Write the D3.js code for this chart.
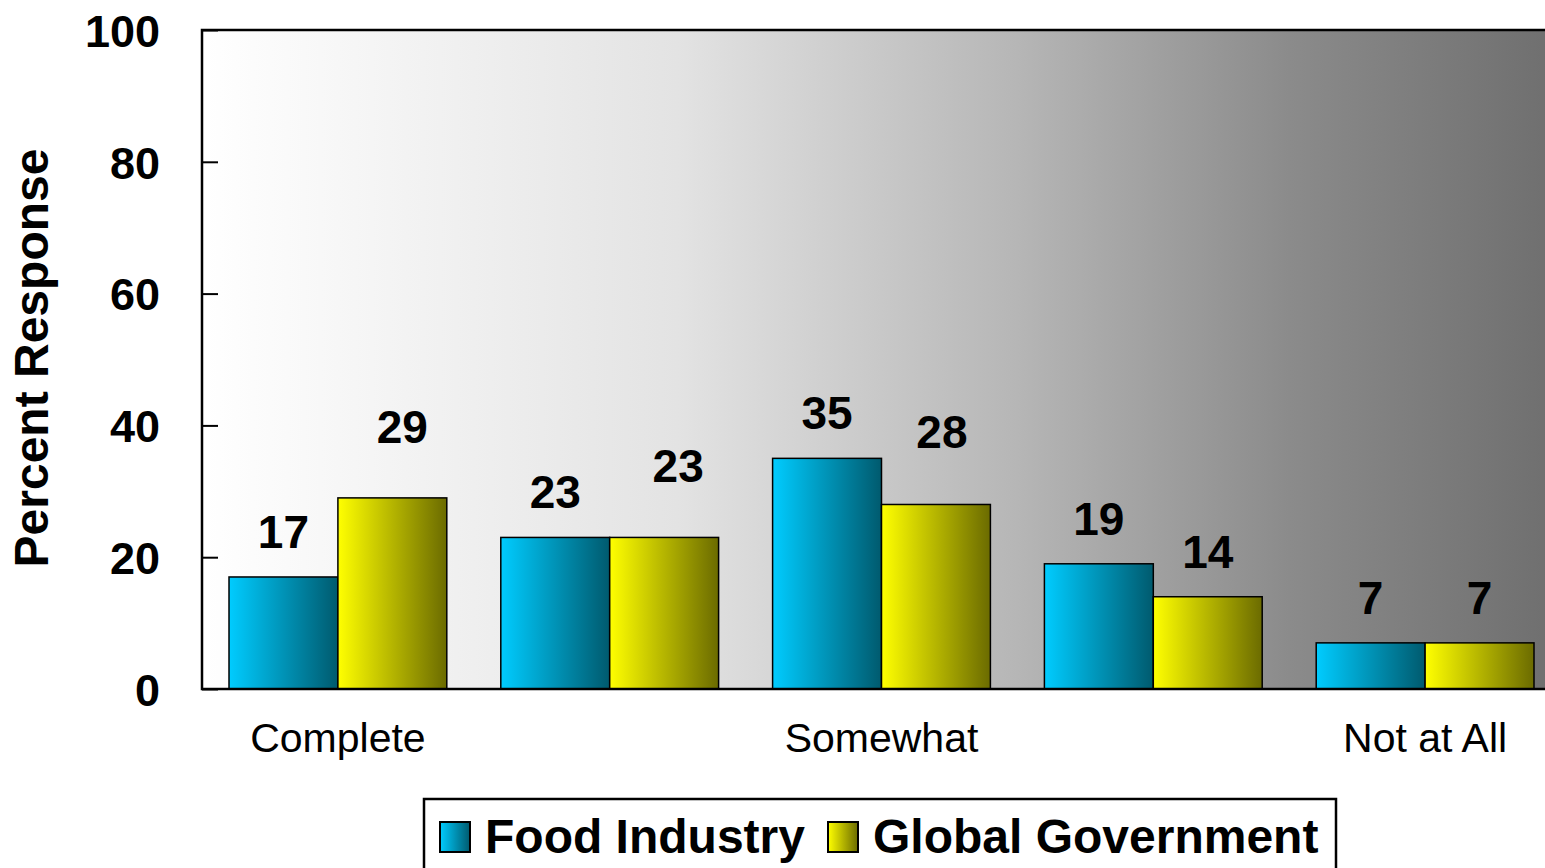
<!DOCTYPE html>
<html>
<head>
<meta charset="utf-8">
<script src="https://cdn.jsdelivr.net/npm/d3@7"></script>
<style>
  body { margin: 0; background: #fff; overflow: hidden; }
  text { font-family: "Liberation Sans", Arial, sans-serif; }
</style>
</head>
<body>
<div id="chart"></div>
<script>
// data
const categories = ["cat1", "cat2", "cat3", "cat4", "cat5"]
const tickLabels = ["Complete", "", "Somewhat", "", "Not at All"]
const seriesNames = ["Food Industry", "Global Government"]
const foodIndustry = [17, 23, 35, 19, 7]
const globalGovernment = [29, 23, 28, 14, 7]
const yTicks = [0, 20, 40, 60, 80, 100]

// value labels in the original were nudged by hand (px)
const labelNudge = [
    [[0, 0], [0, 0], [0, 0], [0, 0], [0, 0]],
    [[10, -26], [14, -26], [6, -27], [0, 0], [0, 0]]
]

const width = 1545, height = 868
const plot = { left: 202, top: 30, width: 1359, height: 659 }

let svg = d3.select("#chart")
    .append("svg")
    .attr("width", width)
    .attr("height", height)

let defs = svg.append("defs")
function hGrad(id, stops) {
    let g = defs.append("linearGradient").attr("id", id)
        .attr("x1", "0%").attr("x2", "100%").attr("y1", "0%").attr("y2", "0%")
    stops.forEach(s => g.append("stop").attr("offset", s[0]).attr("stop-color", s[1]))
}
hGrad("bgGrad", [["0%", "#ffffff"], ["35%", "#e3e3e3"], ["60%", "#b6b6b6"], ["80%", "#8b8b8b"], ["100%", "#6e6e6e"]])
hGrad("cyanGrad", [["0%", "#00ccff"], ["100%", "#005a6e"]])
hGrad("yellowGrad", [["0%", "#ffff00"], ["100%", "#6b6b00"]])
const fills = ["url(#cyanGrad)", "url(#yellowGrad)"]

let g = svg.append("g").attr("transform", `translate(${plot.left}, ${plot.top})`)

// background
g.append("rect")
    .attr("width", plot.width)
    .attr("height", plot.height)
    .attr("fill", "url(#bgGrad)")

let y = d3.scaleLinear().domain([0, 100]).range([plot.height, 0])
let x0 = d3.scaleBand().domain(categories).range([0, plot.width])
let x1 = d3.scaleBand().domain(seriesNames).range([27, x0.bandwidth() - 27])

// y axis (ticks point inward)
let yAxis = g.append("g")
    .call(d3.axisLeft(y).tickValues(yTicks).tickSize(-16).tickPadding(42))
yAxis.select(".domain").remove()
yAxis.selectAll(".tick line").attr("stroke", "#000").attr("stroke-width", 2)
yAxis.selectAll("text")
    .style("font-size", "45px")
    .style("font-weight", "bold")
    .attr("fill", "#000")
    .attr("dy", "0.36em")

// bars
let rows = categories.map((c, i) => ({ cat: c, i, values: [foodIndustry[i], globalGovernment[i]] }))
let groups = g.selectAll(".grp").data(rows).enter()
    .append("g")
    .attr("transform", d => `translate(${x0(d.cat)}, 0)`)

groups.selectAll("rect")
    .data(d => d.values.map((v, j) => ({ key: seriesNames[j], value: v, j })))
    .enter()
    .append("rect")
    .attr("x", d => x1(d.key))
    .attr("y", d => y(d.value))
    .attr("width", x1.bandwidth())
    .attr("height", d => y(0) - y(d.value))
    .attr("fill", d => fills[d.j])
    .attr("stroke", "#000")
    .attr("stroke-width", 1.5)

groups.selectAll(".val")
    .data(d => d.values.map((v, j) => ({ key: seriesNames[j], value: v, nudge: labelNudge[j][d.i] })))
    .enter()
    .append("text")
    .attr("x", d => x1(d.key) + x1.bandwidth() / 2 + d.nudge[0])
    .attr("y", d => y(d.value) - 29 + d.nudge[1])
    .attr("text-anchor", "middle")
    .style("font-size", "46px")
    .style("font-weight", "bold")
    .text(d => d.value)

// frame
g.append("rect")
    .attr("width", plot.width)
    .attr("height", plot.height)
    .attr("fill", "none")
    .attr("stroke", "#000")
    .attr("stroke-width", 2.5)

// category labels
g.selectAll(".cat")
    .data(categories)
    .enter()
    .append("text")
    .attr("x", d => x0(d) + x0.bandwidth() / 2)
    .attr("y", plot.height + 63)
    .attr("text-anchor", "middle")
    .style("font-size", "41px")
    .text((d, i) => tickLabels[i])

// y axis title
svg.append("text")
    .attr("transform", "translate(48, 358) rotate(-90)")
    .attr("text-anchor", "middle")
    .style("font-size", "48px")
    .style("font-weight", "bold")
    .text("Percent Response")

// legend
let legend = svg.append("g")
legend.append("rect")
    .attr("x", 424).attr("y", 799)
    .attr("width", 912).attr("height", 100)
    .attr("fill", "#fff")
    .attr("stroke", "#000")
    .attr("stroke-width", 2.5)
const legendX = [440, 828]
seriesNames.forEach((name, i) => {
    legend.append("rect")
        .attr("x", legendX[i]).attr("y", 822)
        .attr("width", 30).attr("height", 30)
        .attr("fill", fills[i])
        .attr("stroke", "#000")
        .attr("stroke-width", 2)
    legend.append("text")
        .attr("x", legendX[i] + 45)
        .attr("y", 853)
        .style("font-size", "48px")
        .style("font-weight", "bold")
        .text(name)
})
</script>
</body>
</html>
